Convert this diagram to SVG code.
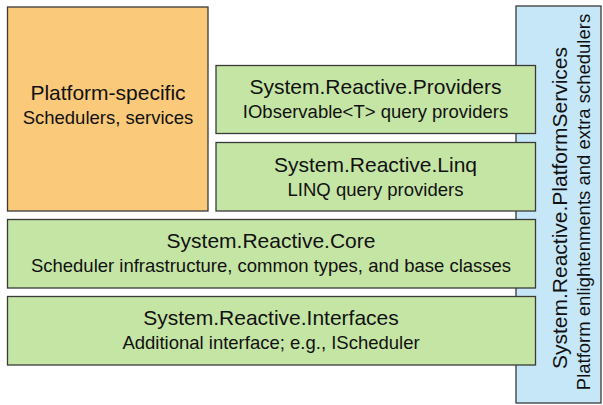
<svg xmlns="http://www.w3.org/2000/svg" width="603" height="405" viewBox="0 0 603 405">
  <style>
    .box { stroke: #3a3a3a; stroke-width: 1.3; }
    .orange { fill: #fac97a; }
    .green { fill: #c5e5a5; }
    .blue { fill: #c6e7f8; }
    text { font-family: "Liberation Sans", Arial, sans-serif; fill: #111; text-anchor: middle; }
    .t { font-size: 21px; }
    .s { font-size: 18.5px; }
  </style>
  <rect width="603" height="405" fill="#ffffff"/>

  <g id="platform-services">
    <rect class="box blue" x="516" y="6" width="85" height="397"/>
    <text class="t" transform="translate(567,208) rotate(-90)">System.Reactive.PlatformServices</text>
    <text class="s" transform="translate(590,202) rotate(-90)">Platform enlightenments and extra schedulers</text>
  </g>

  <g id="platform-specific">
    <rect class="box orange" x="7.5" y="7" width="200.5" height="204"/>
    <text class="t" x="108" y="100">Platform-specific</text>
    <text class="s" x="108" y="124">Schedulers, services</text>
  </g>

  <g id="providers">
    <rect class="box green" x="216" y="65.5" width="319.5" height="68"/>
    <text class="t" x="375.5" y="94">System.Reactive.Providers</text>
    <text class="s" x="375.5" y="118">IObservable&lt;T&gt; query providers</text>
  </g>

  <g id="linq">
    <rect class="box green" x="216" y="142.5" width="319.5" height="68.5"/>
    <text class="t" x="375.5" y="172">System.Reactive.Linq</text>
    <text class="s" x="375.5" y="196">LINQ query providers</text>
  </g>

  <g id="core">
    <rect class="box green" x="7.5" y="219.5" width="528" height="68.5"/>
    <text class="t" x="271" y="248">System.Reactive.Core</text>
    <text class="s" x="271" y="272">Scheduler infrastructure, common types, and base classes</text>
  </g>

  <g id="interfaces">
    <rect class="box green" x="7.5" y="296.5" width="528" height="68.5"/>
    <text class="t" x="271" y="325">System.Reactive.Interfaces</text>
    <text class="s" x="271" y="349">Additional interface; e.g., IScheduler</text>
  </g>
</svg>
